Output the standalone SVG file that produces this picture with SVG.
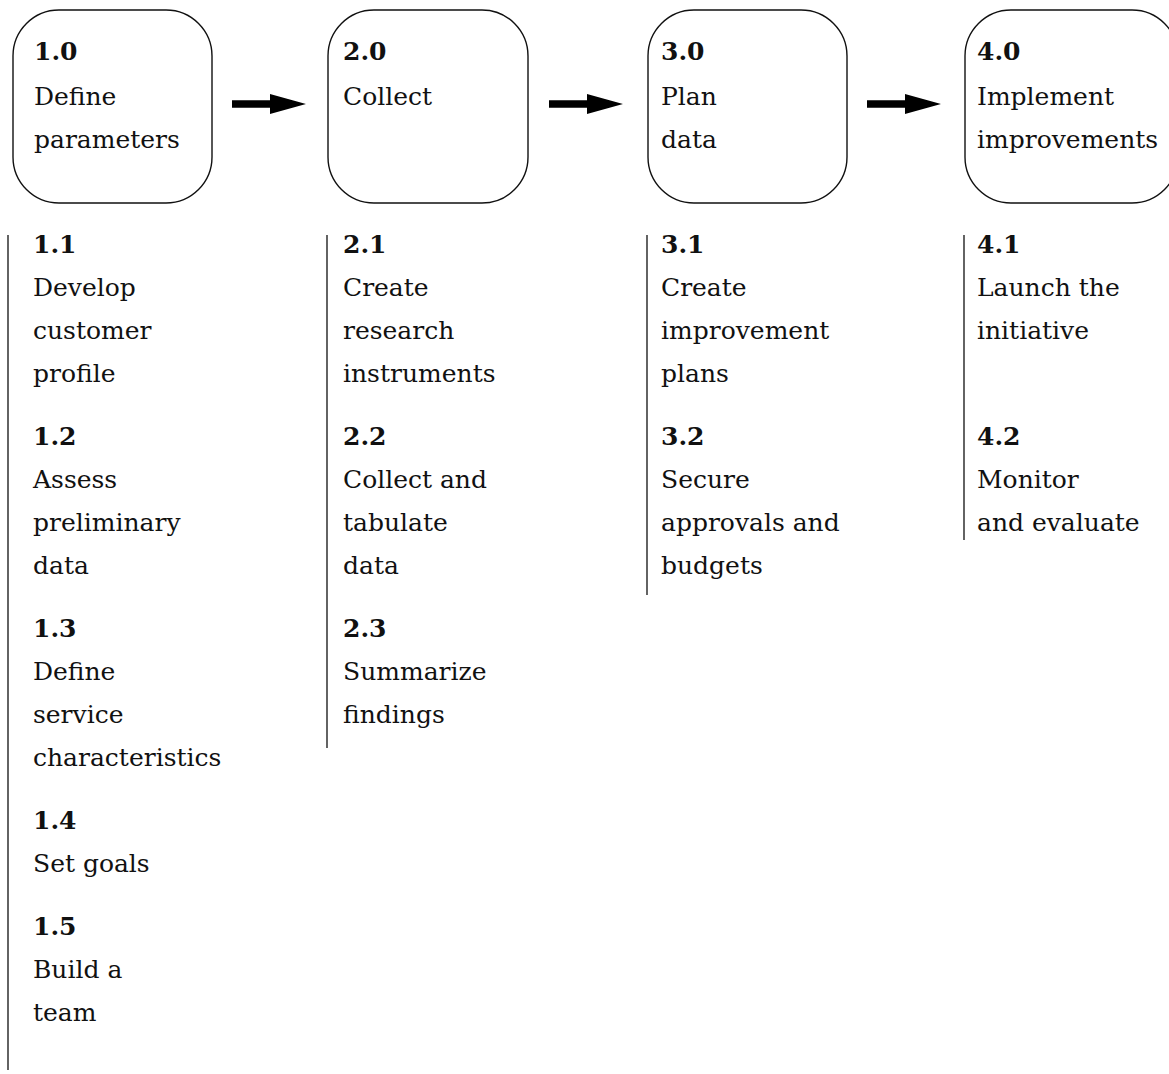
<svg xmlns="http://www.w3.org/2000/svg" xmlns:xlink="http://www.w3.org/1999/xlink" width="1169" height="1074" viewBox="0 0 1169 1074">
  <style>
    .box { fill: #ffffff; stroke: #111111; stroke-width: 1.4; }
    .rule { stroke: #222222; stroke-width: 1.4; }
    text { font-family: "DejaVu Serif", "Liberation Serif", serif; font-size: 25px; fill: #111111; }
    .num { font-weight: bold; }
  </style>
  <defs>
    <!-- block arrow: thick shaft plus triangular head, origin at shaft start -->
    <path id="blockArrow" d="M0,-3.8 L38,-3.8 L38,-10 L74,0 L38,10 L38,3.8 L0,3.8 Z" fill="#000000"/>
  </defs>
  <rect width="1169" height="1074" fill="#ffffff"/>

  <!-- phase boxes -->
  <g id="phase-1">
    <rect class="box" x="13" y="10" width="199" height="193" rx="46" ry="46"/>
    <text class="num" x="34" y="60">1.0</text>
    <text x="34" y="105">Define</text>
    <text x="34" y="148">parameters</text>
  </g>
  <g id="phase-2">
    <rect class="box" x="328" y="10" width="200" height="193" rx="46" ry="46"/>
    <text class="num" x="343" y="60">2.0</text>
    <text x="343" y="105">Collect</text>
  </g>
  <g id="phase-3">
    <rect class="box" x="648" y="10" width="199" height="193" rx="46" ry="46"/>
    <text class="num" x="661" y="60">3.0</text>
    <text x="661" y="105">Plan</text>
    <text x="661" y="148">data</text>
  </g>
  <g id="phase-4">
    <rect class="box" x="965" y="10" width="213" height="193" rx="46" ry="46"/>
    <text class="num" x="977" y="60">4.0</text>
    <text x="977" y="105">Implement</text>
    <text x="977" y="148">improvements</text>
  </g>

  <!-- arrows between phases -->
  <g id="connectors">
    <use xlink:href="#blockArrow" x="232" y="104"/>
    <use xlink:href="#blockArrow" x="549" y="104"/>
    <use xlink:href="#blockArrow" x="867" y="104"/>
  </g>

  <!-- phase 1 steps -->
  <g id="steps-1">
    <line class="rule" x1="8" y1="235" x2="8" y2="1070"/>
    <text class="num" x="33" y="253">1.1</text>
    <text x="33" y="296">Develop</text>
    <text x="33" y="339">customer</text>
    <text x="33" y="382">profile</text>
    <text class="num" x="33" y="445">1.2</text>
    <text x="33" y="488">Assess</text>
    <text x="33" y="531">preliminary</text>
    <text x="33" y="574">data</text>
    <text class="num" x="33" y="637">1.3</text>
    <text x="33" y="680">Define</text>
    <text x="33" y="723">service</text>
    <text x="33" y="766">characteristics</text>
    <text class="num" x="33" y="829">1.4</text>
    <text x="33" y="872">Set goals</text>
    <text class="num" x="33" y="935">1.5</text>
    <text x="33" y="978">Build a</text>
    <text x="33" y="1021">team</text>
  </g>

  <!-- phase 2 steps -->
  <g id="steps-2">
    <line class="rule" x1="327" y1="235" x2="327" y2="748"/>
    <text class="num" x="343" y="253">2.1</text>
    <text x="343" y="296">Create</text>
    <text x="343" y="339">research</text>
    <text x="343" y="382">instruments</text>
    <text class="num" x="343" y="445">2.2</text>
    <text x="343" y="488">Collect and</text>
    <text x="343" y="531">tabulate</text>
    <text x="343" y="574">data</text>
    <text class="num" x="343" y="637">2.3</text>
    <text x="343" y="680">Summarize</text>
    <text x="343" y="723">findings</text>
  </g>

  <!-- phase 3 steps -->
  <g id="steps-3">
    <line class="rule" x1="647" y1="235" x2="647" y2="595"/>
    <text class="num" x="661" y="253">3.1</text>
    <text x="661" y="296">Create</text>
    <text x="661" y="339">improvement</text>
    <text x="661" y="382">plans</text>
    <text class="num" x="661" y="445">3.2</text>
    <text x="661" y="488">Secure</text>
    <text x="661" y="531">approvals and</text>
    <text x="661" y="574">budgets</text>
  </g>

  <!-- phase 4 steps -->
  <g id="steps-4">
    <line class="rule" x1="964" y1="235" x2="964" y2="540"/>
    <text class="num" x="977" y="253">4.1</text>
    <text x="977" y="296">Launch the</text>
    <text x="977" y="339">initiative</text>
    <text class="num" x="977" y="445">4.2</text>
    <text x="977" y="488">Monitor</text>
    <text x="977" y="531">and evaluate</text>
  </g>
</svg>
